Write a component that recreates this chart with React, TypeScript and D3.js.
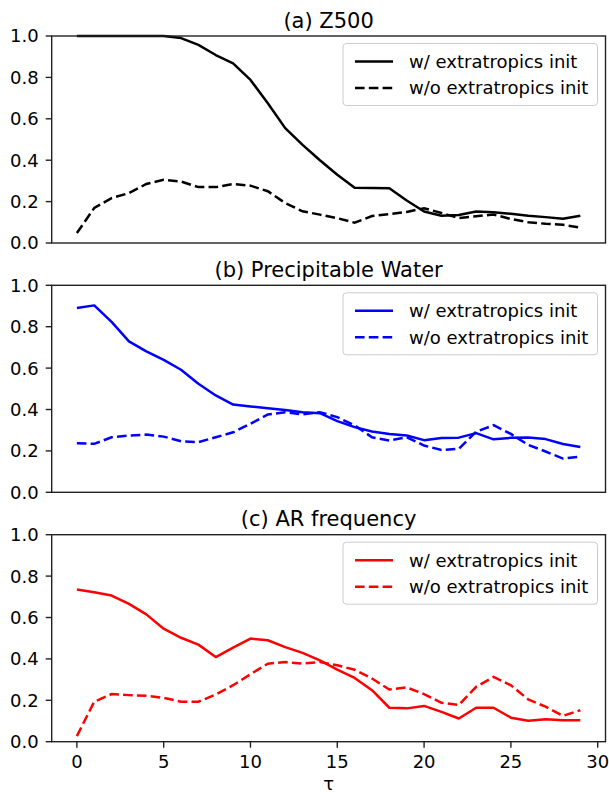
import React from "react";
import * as d3 from "d3";

const tau = d3.range(0, 30);

const z500With = [1.0, 1.0, 1.0, 1.0, 1.0, 1.0, 0.99, 0.957, 0.908, 0.868, 0.788, 0.675, 0.555, 0.474, 0.40, 0.33, 0.267, 0.266, 0.264, 0.205, 0.152, 0.132, 0.135, 0.152, 0.148, 0.141, 0.132, 0.125, 0.117, 0.132];
const z500Without = [0.048, 0.169, 0.217, 0.241, 0.285, 0.305, 0.297, 0.27, 0.27, 0.285, 0.277, 0.25, 0.193, 0.153, 0.137, 0.12, 0.098, 0.13, 0.14, 0.15, 0.168, 0.145, 0.12, 0.129, 0.138, 0.116, 0.1, 0.093, 0.088, 0.074];

const pwWith = [0.89, 0.903, 0.823, 0.729, 0.681, 0.64, 0.592, 0.524, 0.468, 0.424, 0.415, 0.406, 0.398, 0.387, 0.382, 0.344, 0.315, 0.294, 0.282, 0.274, 0.252, 0.262, 0.264, 0.286, 0.256, 0.263, 0.265, 0.257, 0.233, 0.219];
const pwWithout = [0.237, 0.234, 0.266, 0.274, 0.279, 0.269, 0.247, 0.242, 0.266, 0.29, 0.331, 0.376, 0.387, 0.376, 0.387, 0.363, 0.323, 0.266, 0.25, 0.266, 0.226, 0.204, 0.21, 0.293, 0.324, 0.282, 0.229, 0.197, 0.163, 0.172];

const arWith = [0.735, 0.722, 0.706, 0.666, 0.615, 0.546, 0.502, 0.469, 0.409, 0.454, 0.498, 0.49, 0.457, 0.429, 0.393, 0.348, 0.308, 0.249, 0.164, 0.161, 0.173, 0.144, 0.112, 0.164, 0.164, 0.116, 0.101, 0.109, 0.104, 0.104];
const arWithout = [0.027, 0.193, 0.23, 0.225, 0.222, 0.212, 0.193, 0.193, 0.228, 0.273, 0.326, 0.377, 0.385, 0.377, 0.385, 0.369, 0.348, 0.305, 0.252, 0.262, 0.23, 0.188, 0.177, 0.265, 0.313, 0.273, 0.204, 0.169, 0.125, 0.152];

const titles = ["(a) Z500", "(b) Precipitable Water", "(c) AR frequency"];
const colors = ["#000000", "#0000ff", "#ff0000"];
const legendLabels = ["w/ extratropics init", "w/o extratropics init"];
const yTicks = [0, 0.2, 0.4, 0.6, 0.8, 1.0];
const xTicks = [0, 5, 10, 15, 20, 25, 30];

const panels = [
  { title: titles[0], color: colors[0], withInit: z500With, withoutInit: z500Without },
  { title: titles[1], color: colors[1], withInit: pwWith, withoutInit: pwWithout },
  { title: titles[2], color: colors[2], withInit: arWith, withoutInit: arWithout },
];

const W = 609;
const H = 796;
const left = 51.7;
const right = 605.5;
const tops = [36, 285.3, 534.7];
const ph = 207;
const FONT = "DejaVu Sans, sans-serif";
const FS = 18;
const dash = "9.6,4.2";

export default function App() {
  const x = d3.scaleLinear().domain([-1.45, 30.45]).range([left, right]);
  return (
    <svg width={W} height={H} style={{ position: "absolute", left: 0, top: 0, background: "#fff" }}>
      <rect x={0} y={0} width={W} height={H} fill="#fff" />
      {panels.map((p, i) => {
        const top = tops[i];
        const bottom = top + ph;
        const y = d3.scaleLinear().domain([0, 1]).range([bottom, top]);
        const line = d3
          .line<number>()
          .x((_, j) => x(tau[j]))
          .y((d) => y(d));
        const isLast = i === panels.length - 1;
        const lgRight = right - 8;
        const lgLeft = 343;
        const lgTop = top + 7.5;
        const lgH = 62;
        return (
          <g key={i}>
            <defs>
              <clipPath id={`clip${i}`}>
                <rect x={left} y={top - 2} width={right - left} height={ph + 4} />
              </clipPath>
            </defs>
            <text x={(left + right) / 2} y={top - 8.5} textAnchor="middle" fontFamily={FONT} fontSize={21} fill="#000">
              {p.title}
            </text>
            <g clipPath={`url(#clip${i})`}>
              <path d={line(p.withInit) || ""} fill="none" stroke={p.color} strokeWidth={2.5} strokeLinejoin="round" />
              <path d={line(p.withoutInit) || ""} fill="none" stroke={p.color} strokeWidth={2.5} strokeDasharray={dash} />
            </g>
            <rect x={left} y={top} width={right - left} height={ph} fill="none" stroke="#222" strokeWidth={1.4} />
            {yTicks.map((t) => (
              <g key={t}>
                <line x1={left - 6} x2={left} y1={y(t)} y2={y(t)} stroke="#222" strokeWidth={1.4} />
                <text x={left - 13} y={y(t)} dy="0.36em" textAnchor="end" fontFamily={FONT} fontSize={FS} fill="#000">
                  {t.toFixed(1)}
                </text>
              </g>
            ))}
            {isLast &&
              xTicks.map((t) => (
                <g key={t}>
                  <line x1={x(t)} x2={x(t)} y1={bottom} y2={bottom + 6} stroke="#222" strokeWidth={1.4} />
                  <text x={x(t)} y={bottom + 26.5} textAnchor="middle" fontFamily={FONT} fontSize={FS} fill="#000">
                    {t}
                  </text>
                </g>
              ))}
            {isLast && (
              <text x={(left + right) / 2} y={bottom + 48} textAnchor="middle" fontFamily={FONT} fontSize={FS} fill="#000">
                τ
              </text>
            )}
            <rect x={lgLeft} y={lgTop} width={lgRight - lgLeft} height={lgH} rx={3.4} fill="#fff" fillOpacity={0.8} stroke="#cccccc" strokeWidth={1} />
            {legendLabels.map((lab, k) => {
              const cy = lgTop + 18 + k * 26.5;
              return (
                <g key={lab}>
                  <line x1={lgLeft + 12} x2={lgLeft + 50} y1={cy} y2={cy} stroke={p.color} strokeWidth={2.5} strokeDasharray={k === 1 ? dash : undefined} />
                  <text x={lgLeft + 66} y={cy} dy="0.36em" fontFamily={FONT} fontSize={FS} fill="#000">
                    {lab}
                  </text>
                </g>
              );
            })}
          </g>
        );
      })}
    </svg>
  );
}
